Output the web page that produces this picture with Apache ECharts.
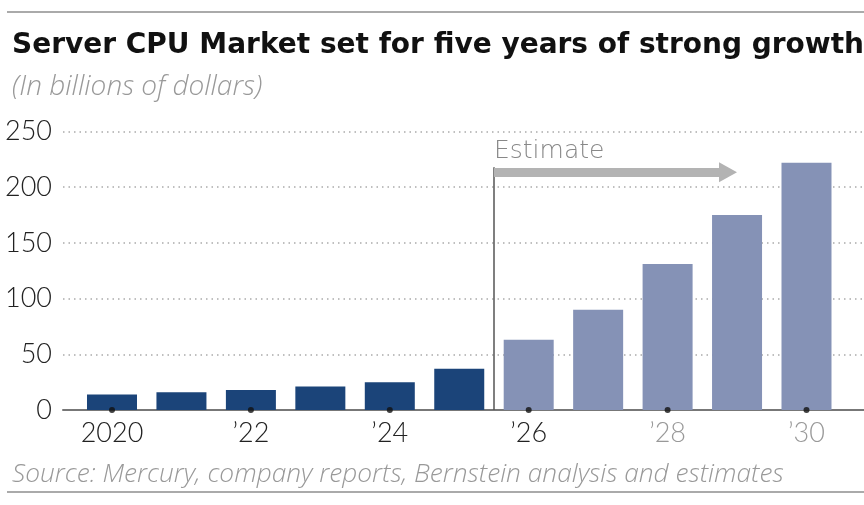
<!DOCTYPE html>
<html>
<head>
<meta charset="utf-8">
<script src="https://cdn.jsdelivr.net/npm/echarts@6/dist/echarts.min.js"></script>
<style>
    body { margin: 0; background: #fff; }
    #chart { width: 864px; height: 505px; }
</style>
</head>
<body>
<div id="chart"></div>
<script>
    // Server CPU market, billions of dollars
    var years = [2020, 2021, 2022, 2023, 2024, 2025, 2026, 2027, 2028, 2029, 2030];
    var actual = [14, 16, 18, 21, 25, 37];
    var estimate = [63, 90, 131, 175, 222];
    var tickYears = [2020, 2022, 2024, 2026, 2028, 2030];
    var tickLabels = ['2020', '\u201922', '\u201924', '\u201926', '\u201928', '\u201930'];

    var darkBlue = '#1b4479';
    var lightBlue = '#8592b6';
    var bodyFont = 'Lato';
    var noteFont = 'Open Sans';

    var barData = [];
    for (var i = 0; i < years.length; i++) {
        var isEst = i >= actual.length;
        barData.push({
            value: [years[i], isEst ? estimate[i - actual.length] : actual[i]],
            itemStyle: {color: isEst ? lightBlue : darkBlue}
        });
    }

    var dotData = [];
    for (var t of tickYears) {
        dotData.push([t, 0]);
    }

    var myChart = echarts.init(document.getElementById('chart'));
    var option = {
        animation: false,
        title: [
            {text: 'Server CPU Market set for five years of strong growth', left: 7, top: 27,
             textStyle: {fontFamily: 'DejaVu Sans', fontWeight: 700, fontSize: 28, color: '#111'}},
            {text: '(In billions of dollars)', left: 7, top: 68,
             textStyle: {fontFamily: noteFont, fontStyle: 'italic', fontWeight: 300, fontSize: 28, color: '#999'}},
            {text: 'Source: Mercury, company reports, Bernstein analysis and estimates', left: 7, top: 457,
             textStyle: {fontFamily: noteFont, fontStyle: 'italic', fontWeight: 300, fontSize: 26.3, color: '#999'}}
        ],
        grid: {left: 63, right: 0, top: 131.5, bottom: 95},
        xAxis: {
            type: 'value',
            min: 2019.2945,
            max: 2030.828,
            splitLine: {show: false},
            axisLine: {show: true, onZero: true, lineStyle: {color: '#777', width: 2}},
            axisTick: {show: false},
            axisLabel: {
                customValues: tickYears,
                margin: 10,
                fontFamily: bodyFont, fontWeight: 300, fontSize: 27,
                formatter: function (v) {
                    var k = tickYears.indexOf(Math.round(v));
                    return k >= 0 ? tickLabels[k] : '';
                },
                color: function (v) {
                    return Math.round(v) >= 2028 ? '#999' : '#222';
                }
            }
        },
        yAxis: {
            type: 'value',
            min: 0,
            max: 250,
            interval: 50,
            axisLine: {show: false},
            axisTick: {show: false},
            axisLabel: {margin: 11, fontFamily: bodyFont, fontWeight: 300, fontSize: 27, color: '#222'},
            splitLine: {lineStyle: {color: '#aaa', width: 1.5, type: [1.5, 4]}}
        },
        series: [
            {
                type: 'bar',
                barWidth: 50,
                data: barData,
                z: 2,
                markLine: {
                    silent: true,
                    symbol: 'none',
                    label: {show: false},
                    data: [
                        [{coord: [2025.5, 0], lineStyle: {color: '#555', width: 1.5, type: 'solid'}},
                         {coord: [2025.5, 218]}]
                    ]
                }
            },
            {
                type: 'line',
                data: [],
                markLine: {
                    silent: true,
                    symbol: ['none', 'triangle'],
                    symbolSize: [20, 18],
                    label: {
                        show: true,
                        position: 'insideStartTop',
                        distance: [0, 8],
                        formatter: 'Estimate',
                        fontFamily: 'DejaVu Sans', fontWeight: 200, fontSize: 25, color: '#888'
                    },
                    data: [
                        [{coord: [2025.5, 213.5], lineStyle: {color: '#b3b3b3', width: 9, type: 'solid'}},
                         {coord: [2028.87, 213.5]}]
                    ]
                }
            },
            {
                type: 'scatter',
                data: dotData,
                symbolSize: 6,
                itemStyle: {color: '#111'},
                z: 5,
                silent: true
            }
        ],
        graphic: [
            {type: 'line', shape: {x1: 7, y1: 12, x2: 864, y2: 12}, style: {stroke: '#aaa', lineWidth: 2}},
            {type: 'line', shape: {x1: 7, y1: 492, x2: 864, y2: 492}, style: {stroke: '#aaa', lineWidth: 2}}
        ]
    };
    myChart.setOption(option);
</script>
</body>
</html>
